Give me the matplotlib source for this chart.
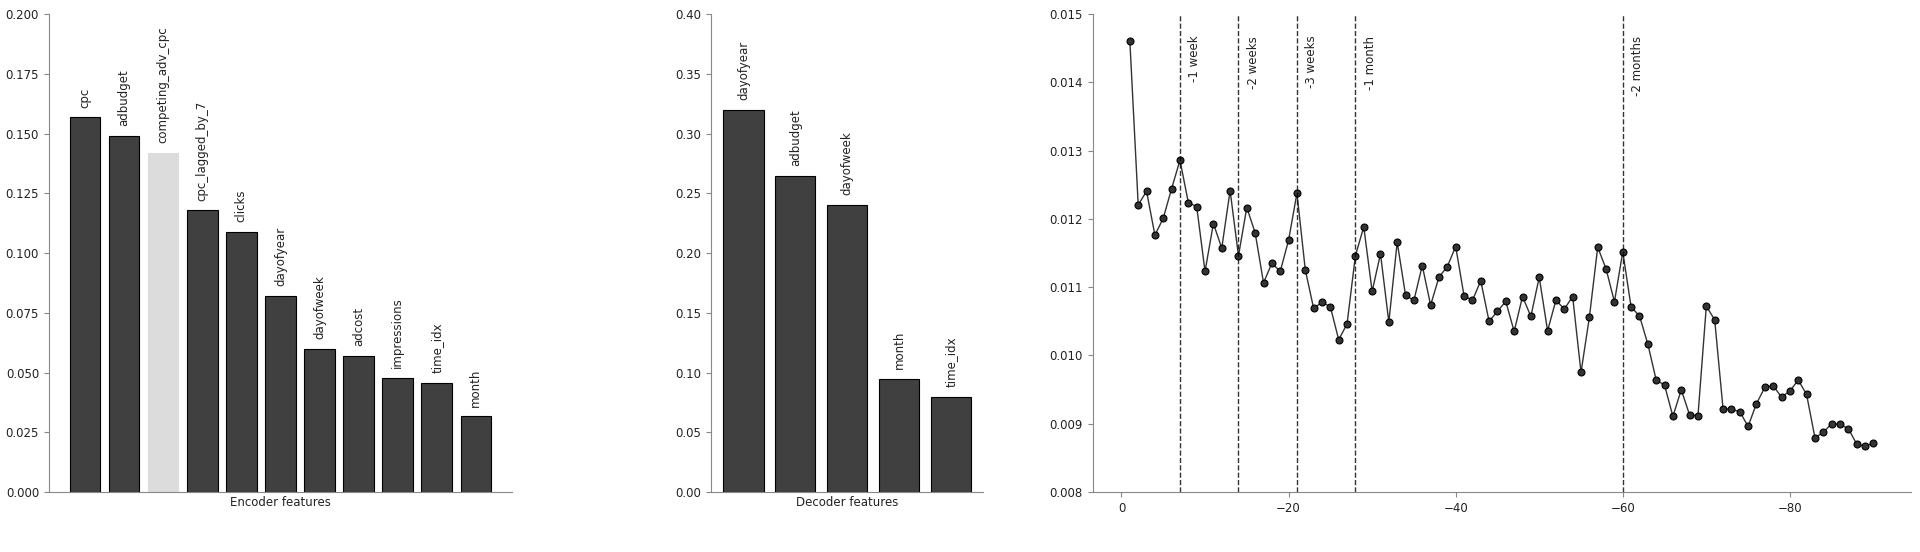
import numpy as np
import matplotlib
matplotlib.use("Agg")
from matplotlib import pyplot as plt

# encoder variable importance
enc_names = ['cpc', 'adbudget', 'competing_adv_cpc', 'cpc_lagged_by_7', 'clicks',
             'dayofyear', 'dayofweek', 'adcost', 'impressions', 'time_idx', 'month']
enc_values = [0.1568, 0.1489, 0.1420, 0.1178, 0.1088, 0.0820, 0.0599,
              0.0569, 0.0479, 0.0457, 0.0316]
enc_highlight = 'competing_adv_cpc'

# decoder variable importance
dec_names = ['dayofyear', 'adbudget', 'dayofweek', 'month', 'time_idx']
dec_values = [0.3200, 0.2648, 0.2400, 0.0945, 0.0794]

# attention by lag
lags = list(range(1, 91))
attention = [
    0.014605, 0.012205, 0.012405, 0.011761, 0.012010, 0.012444, 0.012859, 0.012239, 0.012180, 0.011230,
    0.011932, 0.011571, 0.012415, 0.011459, 0.012166, 0.011795, 0.011063, 0.011351, 0.011230, 0.011688,
    0.012376, 0.011254, 0.010688, 0.010780, 0.010712, 0.010229, 0.010463, 0.011463, 0.011883, 0.010937,
    0.011488, 0.010488, 0.011659, 0.010883, 0.010805, 0.011317, 0.010737, 0.011146, 0.011302, 0.011595,
    0.010873, 0.010805, 0.011093, 0.010498, 0.010649, 0.010790, 0.010351, 0.010863, 0.010571, 0.011146,
    0.010361, 0.010810, 0.010678, 0.010863, 0.009751, 0.010556, 0.011585, 0.011268, 0.010785, 0.011517,
    0.010707, 0.010580, 0.010166, 0.009639, 0.009566, 0.009107, 0.009498, 0.009127, 0.009117, 0.010722,
    0.010522, 0.009220, 0.009210, 0.009176, 0.008961, 0.009293, 0.009532, 0.009556, 0.009390, 0.009478,
    0.009639, 0.009429, 0.008795, 0.008873, 0.009000, 0.008990, 0.008927, 0.008702, 0.008668, 0.008722,
]
marker_lags = [7, 14, 21, 28, 60]
marker_names = ['-1 week', '-2 weeks', '-3 weeks', '-1 month', '-2 months']

plt.rcParams['font.family'] = ['DejaVu Sans']
plt.rcParams['font.size'] = 8.5

DARK = '#404040'
LIGHT = '#dcdcdc'
SPINE = '#888888'
TEXT = '#222222'


def style_axes(ax):
    for side in ['top', 'right']:
        ax.spines[side].set_visible(False)
    for side in ['left', 'bottom']:
        ax.spines[side].set_color(SPINE)
    ax.tick_params(axis='both', colors=SPINE, labelcolor=TEXT, labelsize=8.5, length=3.5)


def bar_panel(ax, names, values, xlabel, highlight=None):
    x = np.arange(len(names))
    colors = [LIGHT if n == highlight else DARK for n in names]
    edges = [LIGHT if n == highlight else 'black' for n in names]
    ax.bar(x, values, width=0.78, color=colors, edgecolor=edges, linewidth=0.8)
    for xi, v, n in zip(x, values, names):
        ax.annotate(n, (xi, v), xytext=(0, 7), textcoords='offset points',
                    rotation=90, ha='center', va='bottom', color=TEXT, fontsize=8.5)
    ax.set_xticks([])
    ax.set_xlabel(xlabel, color=TEXT, fontsize=8.5, labelpad=3)
    style_axes(ax)


fig = plt.figure(figsize=(19.2, 5.52), dpi=100)

ax1 = fig.add_axes([0.0254, 0.1087, 0.2413, 0.8659])
bar_panel(ax1, enc_names, enc_values, 'Encoder features', highlight=enc_highlight)
ax1.set_ylim(0, 0.2)
ax1.set_yticks(np.arange(0, 0.2001, 0.025))
ax1.yaxis.set_major_formatter(matplotlib.ticker.FormatStrFormatter('%.3f'))

ax2 = fig.add_axes([0.3702, 0.1087, 0.1420, 0.8659])
bar_panel(ax2, dec_names, dec_values, 'Decoder features')
ax2.set_ylim(0, 0.4)
ax2.set_yticks(np.arange(0, 0.4001, 0.05))
ax2.yaxis.set_major_formatter(matplotlib.ticker.FormatStrFormatter('%.2f'))

ax3 = fig.add_axes([0.5691, 0.1087, 0.4260, 0.8659])
xs = [-l for l in lags]
ax3.plot(xs, attention, color='#333333', linewidth=1, marker='o', markersize=5,
         markerfacecolor='#333333', markeredgecolor='black', markeredgewidth=0.8)
ax3.invert_xaxis()
ax3.set_ylim(0.008, 0.015)
ax3.set_yticks(np.arange(0.008, 0.01501, 0.001))
ax3.yaxis.set_major_formatter(matplotlib.ticker.FormatStrFormatter('%.3f'))
for l, name in zip(marker_lags, marker_names):
    ax3.axvline(-l, color='black', linestyle='--', linewidth=1, alpha=0.8)
    ax3.text(-l - 1, 0.01468, name, rotation=90, ha='left', va='top',
             color=TEXT, fontsize=8.5)
style_axes(ax3)

fig.savefig('out.png', dpi=100, facecolor='white')
